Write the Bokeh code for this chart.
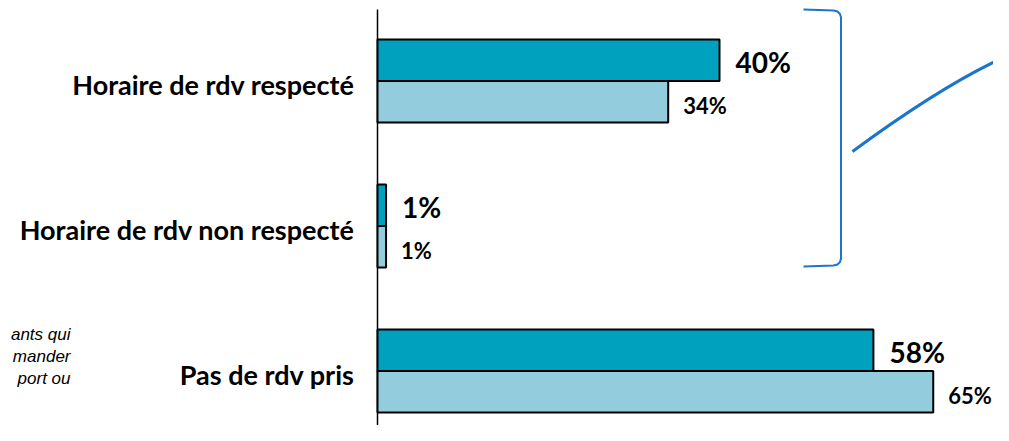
import numpy as np
from bokeh.plotting import figure
from bokeh.models import Range1d
from bokeh.core.properties import value
from bokeh.embed import file_html
from bokeh.resources import INLINE

# ---- data ----
categories = ["Horaire de rdv respecté", "Horaire de rdv non respecté", "Pas de rdv pris"]
series_dark = [40, 1, 58]
series_light = [34, 1, 65]
labels_dark = ["40%", "1%", "58%"]
labels_light = ["34%", "1%", "65%"]
note_lines = ["ants qui", "mander", "port ou"]

# ---- layout constants ----
W, H = 993, 425
PX_PER_PCT = 8.55
AXIS_PX = 377          # pixel of x = 0
GROUP_PX = 145         # pixels between category centres
FIRST_GROUP_PX = 80.5  # pixel of first category centre

x0 = -AXIS_PX / PX_PER_PCT
x1 = (W - AXIS_PX) / PX_PER_PCT
y_top = -FIRST_GROUP_PX / GROUP_PX
y_bot = y_top + H / GROUP_PX


def px_x(px):
    return x0 + px / PX_PER_PCT


def px_y(py):
    return y_top + py / GROUP_PX


p = figure(width=W, height=H, x_range=Range1d(x0, x1), y_range=Range1d(y_bot, y_top),
           output_backend="svg", toolbar_location=None, min_border=0,
           x_axis_location=None, y_axis_location=None)
p.grid.visible = False
p.outline_line_color = None
p.background_fill_color = "white"
p.border_fill_color = "white"

idx = np.arange(len(categories))
bar_h = 41.5 / GROUP_PX
DARK = "#00A0BF"
LIGHT = "#93CDDD"
BLUE = "#1B75CC"

# vertical axis line
p.segment(x0=[0], y0=[px_y(9)], x1=[0], y1=[px_y(H + 20)], line_color="black", line_width=1.5)

p.hbar(y=idx - bar_h / 2, left=0, right=series_dark, height=bar_h,
       fill_color=DARK, line_color="black", line_width=2)
p.hbar(y=idx + bar_h / 2, left=0, right=series_light, height=bar_h,
       fill_color=LIGHT, line_color="black", line_width=2)

p.text(x=series_dark, y=idx - bar_h / 2, text=labels_dark, x_offset=16, y_offset=2,
       text_align="left", text_baseline="middle", text_font=value("Lato"),
       text_font_style="bold", text_font_size="28px", text_color="black")
p.text(x=series_light, y=idx + bar_h / 2, text=labels_light, x_offset=15, y_offset=4,
       text_align="left", text_baseline="middle", text_font=value("Lato"),
       text_font_style="bold", text_font_size="22px", text_color="black")

p.text(x=[0] * len(categories), y=idx, text=categories, x_offset=-23, y_offset=3,
       text_align="right", text_baseline="middle", text_font=value("Lato"),
       text_font_style="bold", text_font_size="27px", text_color="black")

# bracket
bx = [803, 833, 837, 839.5, 840.5, 840.5, 839.5, 837, 833, 803]
by = [9, 10, 11, 13.5, 17, 258, 261.5, 264, 265, 266]
p.line([px_x(v) for v in bx], [px_y(v) for v in by], line_color=BLUE, line_width=2)

# curved connector
p.quadratic(x0=px_x(852), y0=px_y(151), x1=px_x(1012), y1=px_y(53),
            cx=px_x(947), cy=px_y(81), line_color=BLUE, line_width=3)

# cropped footnote text
note_y = [334, 356, 378]
p.text(x=[px_x(70)] * 3, y=[px_y(v) for v in note_y], text=note_lines,
       text_align="right", text_baseline="middle", text_font=value("Liberation Sans"),
       text_font_style="italic", text_font_size="17px", text_color="black")

open("out.html", "w").write(file_html(p, INLINE))
